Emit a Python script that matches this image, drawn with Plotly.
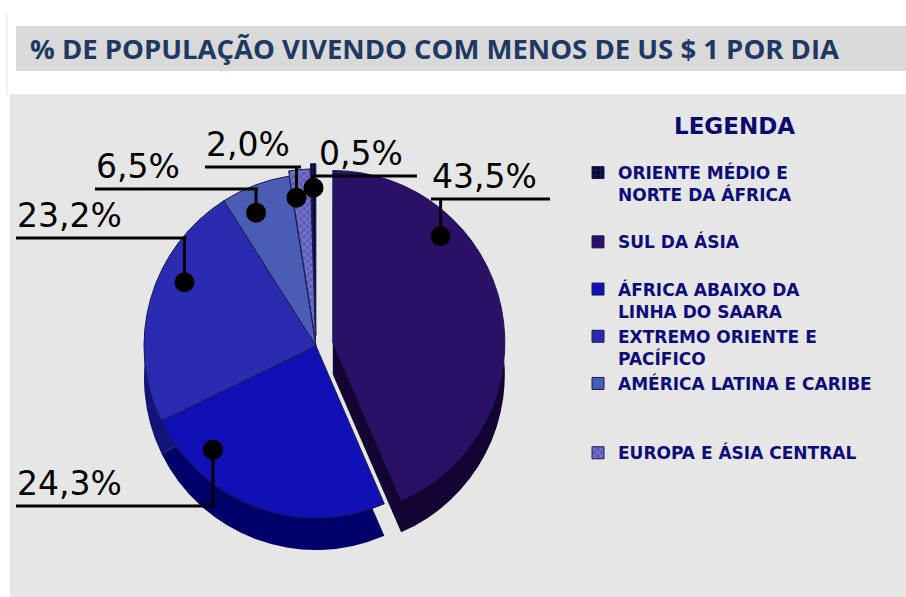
import math
import plotly.graph_objects as go

# ---------------- data ----------------
regions = [
    "ORIENTE MÉDIO E<br>NORTE DA ÁFRICA",
    "SUL DA ÁSIA",
    "ÁFRICA ABAIXO DA<br>LINHA DO SAARA",
    "EXTREMO ORIENTE E<br>PACÍFICO",
    "AMÉRICA LATINA E CARIBE",
    "EUROPA E ÁSIA CENTRAL",
]
shares = [0.5, 43.5, 24.3, 23.2, 6.5, 2.0]
share_labels = ["0,5%", "43,5%", "24,3%", "23,2%", "6,5%", "2,0%"]

title_text = "% DE POPULAÇÃO VIVENDO COM MENOS DE US $ 1 POR DIA"
legend_title = "LEGENDA"

# ---------------- styles ----------------
top_colors = ["#06062a", "#2b1166", "#1010b4", "#2b2bb2", "#4a5db4", "#5a5ab8"]
side_colors = ["#03031a", "#140434", "#00006a", "#13137a", "#26358a", "#3a3a8e"]
pattern_shapes = ["+", "", "", "", "", "x"]
pattern_fg = ["#2c2c80", "#2b1166", "#1010b4", "#2b2bb2", "#4a5db4", "#9c9ce2"]
pulls = [0.06, 0.10, 0.0, 0.0, 0.0, 0.03]
legend_pad_lines = [1, 1, 0, 0, 2, 0]   # extra blank lines for legend spacing

W, H = 906, 597
CX, CY = 316, 346      # pie centre (px)
R = 172                # pie radius (px)
DEPTH = 32             # 3-D thickness (px)
max_pull = max(pulls)
side = 2 * R * (1 + max_pull)

# label boxes (px): text left, text right, leader line y ; and dot placement in slice
label_style = [
    dict(tl=320, tr=415, ly=176, frac=0.5, rf=0.86),   # 0,5
    dict(tl=433, tr=548, ly=199, frac=0.29, rf=0.88),  # 43,5
    dict(tl=18, tr=124, ly=506, frac=0.78, rf=0.85),   # 24,3
    dict(tl=18, tr=124, ly=238, frac=0.62, rf=0.85),   # 23,2
    dict(tl=97, tr=192, ly=189, frac=0.35, rf=0.85),   # 6,5
    dict(tl=207, tr=299, ly=167, frac=0.2, rf=0.84),   # 2,0
]


def px_x(x):
    return x / W


def px_y(y):
    return 1 - y / H


def domain(cy):
    return dict(
        x=[px_x(CX - side / 2), px_x(CX + side / 2)],
        y=[px_y(cy + side / 2), px_y(cy - side / 2)],
    )


total = sum(shares)
rotation = -shares[0] / total * 360
legend_names = [name + "<br> " * n for name, n in zip(regions, legend_pad_lines)]

fig = go.Figure()

# side (depth) of the pie
fig.add_trace(go.Pie(
    labels=legend_names, values=shares, sort=False, direction="clockwise",
    rotation=rotation, pull=pulls, domain=domain(CY + DEPTH),
    marker=dict(colors=side_colors, line=dict(width=0)),
    textinfo="none", hoverinfo="skip", showlegend=False,
))

# top face of the pie
fig.add_trace(go.Pie(
    labels=legend_names, values=shares, sort=False, direction="clockwise",
    rotation=rotation, pull=pulls, domain=domain(CY),
    marker=dict(colors=top_colors, line=dict(width=1, color="#1a1a55"),
                pattern=dict(shape=pattern_shapes, fgcolor=pattern_fg, bgcolor=top_colors,
                             fillmode="overlay", size=5, solidity=0.4)),
    textinfo="none", hovertext=regions, hovertemplate="%{hovertext}: %{value}%<extra></extra>",
))

shapes = [
    dict(type="rect", xref="paper", yref="paper", x0=px_x(10), x1=1, y0=0, y1=px_y(94),
         fillcolor="#e6e6e6", line=dict(width=0), layer="below"),
    dict(type="rect", xref="paper", yref="paper", x0=px_x(16), x1=1, y0=px_y(71), y1=px_y(26),
         fillcolor="#d9d9d9", line=dict(width=0), layer="below"),
    dict(type="line", xref="paper", yref="paper", x0=px_x(7), x1=px_x(7), y0=px_y(94), y1=px_y(14),
         line=dict(color="#e3e3e3", width=1), layer="below"),
]
annotations = [
    dict(text="<b>" + title_text + "</b>", xref="paper", yref="paper",
         x=px_x(28), y=px_y(48), xanchor="left", yanchor="middle", showarrow=False,
         font=dict(family="Open Sans", size=27.5, color="#1f3864")),
    dict(text="<b>" + legend_title + "</b>", xref="paper", yref="paper",
         x=px_x(734), y=px_y(126), xanchor="center", yanchor="middle", showarrow=False,
         font=dict(family="DejaVu Sans", size=23, color="#0a0a6e")),
]

# labels with leader lines and dots, positioned from the slice angles
start = rotation
for i, v in enumerate(shares):
    sweep = v / total * 360
    st = label_style[i]
    mid = math.radians(start + sweep / 2)
    th = math.radians(start + st["frac"] * sweep)
    ox = pulls[i] * R * math.sin(mid)
    oy = -pulls[i] * R * math.cos(mid)
    dx = CX + ox + st["rf"] * R * math.sin(th)
    dy = CY + oy - st["rf"] * R * math.cos(th)
    start += sweep
    lx0 = min(st["tl"], dx) - 2
    lx1 = max(st["tr"], dx) + 2
    shapes.append(dict(type="line", xref="paper", yref="paper",
                       x0=px_x(lx0), x1=px_x(lx1), y0=px_y(st["ly"]), y1=px_y(st["ly"]),
                       line=dict(color="black", width=3)))
    shapes.append(dict(type="line", xref="paper", yref="paper",
                       x0=px_x(dx), x1=px_x(dx), y0=px_y(st["ly"]), y1=px_y(dy),
                       line=dict(color="black", width=3)))
    shapes.append(dict(type="circle", xref="paper", yref="paper",
                       x0=px_x(dx - 10), x1=px_x(dx + 10), y0=px_y(dy + 10), y1=px_y(dy - 10),
                       fillcolor="black", line=dict(width=0)))
    annotations.append(dict(text=share_labels[i], xref="paper", yref="paper",
                            x=px_x(st["tl"] - 3), y=px_y(st["ly"] - 1),
                            xanchor="left", yanchor="bottom", showarrow=False,
                            font=dict(family="DejaVu Sans", size=33, color="black")))

fig.update_layout(
    width=W, height=H,
    margin=dict(l=0, r=0, t=0, b=0),
    paper_bgcolor="white", plot_bgcolor="white",
    shapes=shapes, annotations=annotations,
    legend=dict(
        x=px_x(578), y=px_y(155), xanchor="left", yanchor="top",
        bgcolor="rgba(0,0,0,0)", valign="top",
        font=dict(family="DejaVu Sans", size=17, color="#0c0c7a", weight="bold"),
        itemclick=False, itemdoubleclick=False,
    ),
)

fig.write_html("out.html", config={"displayModeBar": False},
               post_script="document.body.style.margin='0';document.body.style.padding='0';")
